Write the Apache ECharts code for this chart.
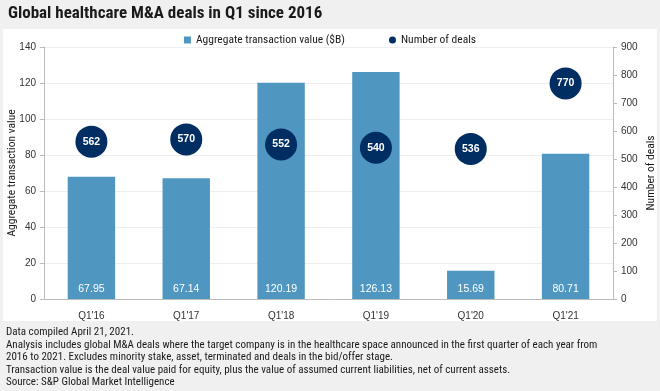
<!DOCTYPE html>
<html><head><meta charset="utf-8">
<script src="https://cdn.jsdelivr.net/npm/echarts@6/dist/echarts.min.js"></script>
<style>html,body{margin:0;padding:0;background:#f0f0f0}#c{width:660px;height:391px}</style>
</head><body><div id="c"></div>
<script>
const categories = ["Q1'16","Q1'17","Q1'18","Q1'19","Q1'20","Q1'21"];
const transactionValue = [67.95, 67.14, 120.19, 126.13, 15.69, 80.71];
const numberOfDeals = [562, 570, 552, 540, 536, 770];
const leftTicks = [0, 140, 20];
const rightTicks = [0, 900, 100];
const footnotes = [
  "Data compiled April 21, 2021.",
  "Analysis includes global M&A deals where the target company is in the healthcare space announced in the first quarter of each year from",
  "2016 to 2021. Excludes minority stake, asset, terminated and deals in the bid/offer stage.",
  "Transaction value is the deal value paid for equity, plus the value of assumed current liabilities, net of current assets.",
  "Source: S&P Global Market Intelligence"
];
const FONT = "'Liberation Sans Narrow', 'Roboto Condensed', Roboto, sans-serif";
const TICKFONT = "'Liberation Sans', Arial, sans-serif";
const chart = echarts.init(document.getElementById('c'));
chart.setOption({
  backgroundColor: '#f0f0f0',
  animation: false,
  graphic: [
    {type:'rect', z:-10, shape:{x:3,y:29,width:654,height:292}, style:{fill:'#ffffff'}},
    {type:'text', left:8, top:5, style:{text:'Global healthcare M&A deals in Q1 since 2016', font:"bold 17px " + FONT, fill:'#1a1a1a'}},
    {type:'text', left:6, top:326, style:{text: footnotes.join('\n'), font:"11px " + FONT, lineHeight:12.6, fill:'#1a1a1a'}}
  ],
  legend: {
    top: 29, left: 'center', itemGap: 44, itemWidth: 7, itemHeight: 7,
    textStyle: {fontFamily: FONT, fontSize: 11.5, color: '#1a1a1a'},
    data: [{name:'Aggregate transaction value ($B)', icon:'rect'}, {name:'Number of deals', icon:'circle'}]
  },
  grid: {left: 44, right: 47, top: 47, bottom: 92, containLabel:false, outerBoundsMode:'none'},
  xAxis: {
    type: 'category', data: categories,
    axisLine: {lineStyle:{color:'#bbbbbb'}}, axisTick: {show:false},
    axisLabel: {color:'#333', fontSize: 10, fontFamily: TICKFONT, margin: 12}
  },
  yAxis: [
    {type:'value', min:leftTicks[0], max:leftTicks[1], interval:leftTicks[2],
     name:'Aggregate transaction value', nameLocation:'middle', nameGap:26, nameRotate:90, nameMoveOverlap:false,
     nameTextStyle:{fontFamily: FONT, fontSize:11.5, color:'#1a1a1a'},
     axisLine:{show:true, lineStyle:{color:'#bbbbbb'}}, axisTick:{show:true, length:4, lineStyle:{color:'#bbbbbb'}},
     axisLabel:{color:'#333', fontSize:10, fontFamily:TICKFONT, margin:8},
     splitLine:{lineStyle:{color:'#eeeeee'}}},
    {type:'value', min:rightTicks[0], max:rightTicks[1], interval:rightTicks[2],
     name:'Number of deals', nameLocation:'middle', nameGap:32, nameRotate:90, nameMoveOverlap:false,
     nameTextStyle:{fontFamily: FONT, fontSize:11.5, color:'#1a1a1a'},
     axisLine:{show:true, lineStyle:{color:'#bbbbbb'}}, axisTick:{show:true, length:4, lineStyle:{color:'#bbbbbb'}},
     axisLabel:{color:'#333', fontSize:10, fontFamily:TICKFONT, margin:8},
     splitLine:{show:false}}
  ],
  series: [
    {name:'Aggregate transaction value ($B)', type:'bar', data: transactionValue, barWidth:'50%',
     itemStyle:{color:'#4f97c1'},
     label:{show:true, position:'insideBottom', distance:4, color:'#ffffff', fontSize:10.5, fontFamily:TICKFONT,
            formatter: p => p.value.toFixed(2)}},
    {name:'Number of deals', type:'scatter', yAxisIndex:1, data: numberOfDeals, symbolSize:32,
     itemStyle:{color:'#002d62', opacity:1}, z:5,
     label:{show:true, position:'inside', color:'#ffffff', fontSize:10.5, fontWeight:'bold', fontFamily:TICKFONT}}
  ]
});
</script></body></html>
